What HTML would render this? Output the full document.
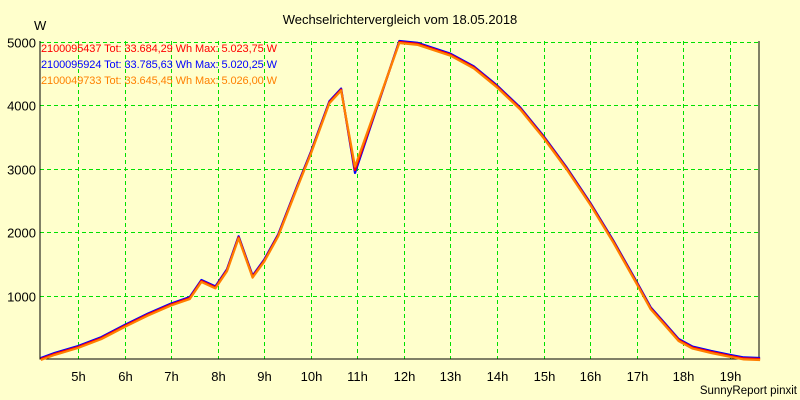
<!DOCTYPE html>
<html><head><meta charset="utf-8"><style>
body{margin:0;background:#FFFFCC;}
svg{display:block;font-family:"Liberation Sans",sans-serif;}
</style></head><body>
<svg id="s" width="800" height="400" xmlns="http://www.w3.org/2000/svg">
<rect width="800" height="400" fill="#FFFFCC"/>
<text x="400" y="24" font-size="13" text-anchor="middle" fill="#000">Wechselrichtervergleich vom 18.05.2018</text>
<text x="34" y="30" font-size="13" fill="#000">W</text>
<g id="grid" stroke="#00E000" stroke-width="1" stroke-dasharray="4,3"></g>
<g id="lab" font-size="13" fill="#000"></g>
<polyline points="40,41 40,359 759,359 759,41" fill="none" stroke="#000" stroke-width="1"/>
<g id="lines" fill="none" stroke-width="2.2" stroke-linejoin="round"></g>
<g font-size="11">
<text x="41" y="52" fill="#FF0000" textLength="236">2100095437 Tot: 33.684,29 Wh Max: 5.023,75 W</text>
<text x="41" y="68" fill="#0000FF" textLength="236">2100095924 Tot: 33.785,63 Wh Max: 5.020,25 W</text>
<text x="41" y="84" fill="#FF8000" textLength="236">2100049733 Tot: 33.645,45 Wh Max: 5.026,00 W</text>
</g>
<text x="797" y="394" font-size="11.5" text-anchor="end" fill="#000">SunnyReport pinxit</text>
</svg>
<script>
var X=function(h){return 78+(h-5)*46.56},Y=function(w){return 359-w*0.0634};
var g=document.getElementById('grid'),l=document.getElementById('lab'),ns='http://www.w3.org/2000/svg';
function el(p,t,a,txt){var e=document.createElementNS(ns,t);for(var k in a)e.setAttribute(k,a[k]);if(txt)e.textContent=txt;p.appendChild(e);}
for(var h=5;h<=19;h++){var x=Math.round(X(h))+.5;el(g,'line',{x1:x,y1:41,x2:x,y2:359});el(l,'text',{x:x,y:381,'text-anchor':'middle'},h+'h');}
for(var w=1000;w<=5000;w+=1000){var y=Math.round(Y(w))+.5;el(g,'line',{x1:40,y1:y,x2:759,y2:y});el(l,'text',{x:36,y:y+5,'text-anchor':'end'},w);}
var d=[[4.2,0],[4.5,80],[5,190],[5.5,330],[6,520],[6.5,700],[7,860],[7.4,960],[7.65,1230],[7.95,1130],[8.2,1400],[8.45,1920],[8.75,1300],[9,1550],[9.3,1950],[9.7,2700],[10,3250],[10.4,4050],[10.65,4250],[10.95,2980],[11.9,5000],[12.3,4970],[13,4800],[13.5,4600],[14,4300],[14.5,3950],[15,3500],[15.5,3000],[16,2450],[16.5,1850],[17,1200],[17.3,800],[17.6,550],[17.9,300],[18.2,180],[18.6,110],[19,50],[19.3,10],[19.65,0]];
function pts(dx,dy,dip){return d.map(function(p){var w=p[1];if(p[0]==10.95)w=dip;return (X(p[0])+dx).toFixed(1)+','+(Y(w)+dy).toFixed(1)}).join(' ');}
var L=document.getElementById('lines');
el(L,'polyline',{points:pts(0,-1,2920),stroke:'#0000FF'});
el(L,'polyline',{points:pts(0,0,2980),stroke:'#FF0000'});
el(L,'polyline',{points:pts(0,1,3050),stroke:'#FF8000'});
</script>
</body></html>
